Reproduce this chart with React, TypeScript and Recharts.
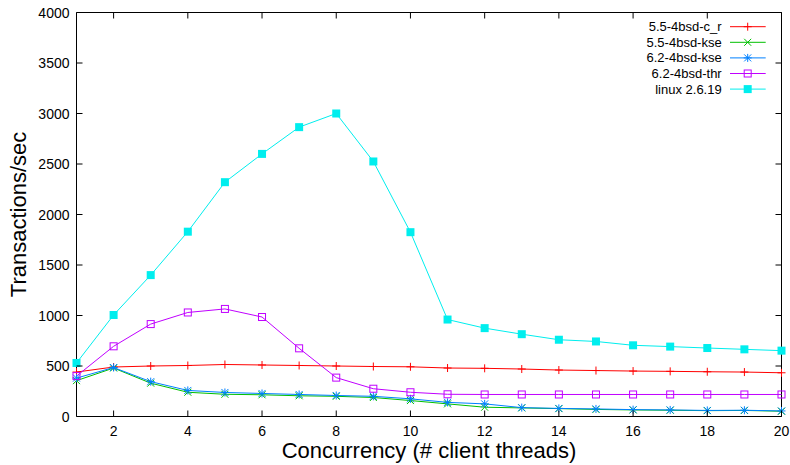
import { Legend, Line, LineChart, ReferenceArea, XAxis, YAxis } from "recharts";

const threads = [1, 2, 3, 4, 5, 6, 7, 8, 9, 10, 11, 12, 13, 14, 15, 16, 17, 18, 19, 20];
const bsd55cr = [440, 490, 500, 505, 515, 510, 505, 500, 495, 492, 480, 477, 470, 460, 455, 450, 447, 443, 440, 433];
const bsd55kse = [355, 480, 330, 240, 220, 215, 205, 200, 188, 158, 125, 92, 85, 78, 70, 65, 62, 58, 60, 52];
const bsd62kse = [380, 485, 345, 258, 238, 228, 218, 208, 200, 175, 140, 125, 88, 80, 75, 68, 65, 60, 62, 55];
const bsd62thr = [400, 695, 915, 1030, 1065, 985, 675, 385, 275, 240, 220, 218, 218, 218, 218, 218, 218, 218, 218, 218];
const linux2619 = [530, 1005, 1400, 1830, 2320, 2600, 2865, 3000, 2525, 1825, 960, 875, 815, 760, 743, 705, 692, 678, 665, 652];

const xTicks = [2, 4, 6, 8, 10, 12, 14, 16, 18, 20];
const yTicks = [0, 500, 1000, 1500, 2000, 2500, 3000, 3500, 4000];

const FONT = '"Liberation Sans", Arial, Helvetica, sans-serif';
const PLOT_W = 705;
const PLOT_H = 404;

const series = [
  { key: "cr", name: "5.5-4bsd-c_r", color: "#ff0000", kind: "plus" },
  { key: "kse55", name: "5.5-4bsd-kse", color: "#00c000", kind: "cross" },
  { key: "kse62", name: "6.2-4bsd-kse", color: "#0080ff", kind: "star" },
  { key: "thr", name: "6.2-4bsd-thr", color: "#c000ff", kind: "box" },
  { key: "linux", name: "linux 2.6.19", color: "#00eeee", kind: "boxf" },
];

const data = threads.map((t, i) => ({
  threads: t,
  cr: bsd55cr[i],
  kse55: bsd55kse[i],
  kse62: bsd62kse[i],
  thr: bsd62thr[i],
  linux: linux2619[i],
}));

function Marker({ kind, cx, cy, color }: { kind: string; cx: number; cy: number; color: string }) {
  const plus = `M${cx - 4},${cy}H${cx + 4}M${cx},${cy - 4}V${cy + 4}`;
  const cross = `M${cx - 3.5},${cy - 3.5}L${cx + 3.5},${cy + 3.5}M${cx - 3.5},${cy + 3.5}L${cx + 3.5},${cy - 3.5}`;
  if (kind === "plus") return <path d={plus} stroke={color} fill="none" />;
  if (kind === "cross") return <path d={cross} stroke={color} fill="none" />;
  if (kind === "star") return <path d={plus + cross} stroke={color} fill="none" />;
  if (kind === "box")
    return <rect x={cx - 3.5} y={cy - 3.5} width={7} height={7} stroke={color} fill="none" />;
  return <rect x={cx - 4} y={cy - 4} width={8} height={8} fill={color} />;
}

const XTick = (props: any) => {
  const { x, y, payload } = props;
  return (
    <g>
      <line x1={x} x2={x} y1={y} y2={y - 6} stroke="#000" />
      <line x1={x} x2={x} y1={y - PLOT_H} y2={y - PLOT_H + 6} stroke="#000" />
      <text x={x} y={y + 19} textAnchor="middle" fontSize={14} fontFamily={FONT} fill="#000">
        {payload.value}
      </text>
    </g>
  );
};

const YTick = (props: any) => {
  const { x, y, payload } = props;
  return (
    <g>
      <line x1={x} x2={x + 6} y1={y} y2={y} stroke="#000" />
      <line x1={x + PLOT_W} x2={x + PLOT_W - 6} y1={y} y2={y} stroke="#000" />
      <text x={x - 7} y={y + 5} textAnchor="end" fontSize={14} fontFamily={FONT} fill="#000">
        {payload.value}
      </text>
    </g>
  );
};

const YTitle = (props: any) => {
  const { x, y, height } = props.viewBox;
  const cx = x + 18;
  const cy = y + height / 2;
  return (
    <text
      x={cx}
      y={cy}
      transform={`rotate(-90 ${cx} ${cy})`}
      textAnchor="middle"
      dominantBaseline="central"
      fontSize={22}
      fontFamily={FONT}
      fill="#000"
    >
      Transactions/sec
    </text>
  );
};

const XTitle = (props: any) => {
  const { x, y, width } = props.viewBox;
  return (
    <text x={x + width / 2} y={y + 41} textAnchor="middle" fontSize={22} fontFamily={FONT} fill="#000">
      Concurrency (# client threads)
    </text>
  );
};

const KeyBox = () => (
  <svg width={180} height={95} style={{ display: "block" }}>
    {series.map((s, i) => {
      const cy = 16.7 + i * 15.6;
      return (
        <g key={s.key}>
          <text x={121.7} y={cy + 4.5} textAnchor="end" fontSize={13} fontFamily={FONT} fill="#000">
            {s.name}
          </text>
          <line x1={130} x2={165.7} y1={cy} y2={cy} stroke={s.color} />
          <Marker kind={s.kind} cx={147.7} cy={cy} color={s.color} />
        </g>
      );
    })}
  </svg>
);

export default function App() {
  return (
    <div style={{ position: "absolute", left: 0, top: 0, background: "#fff" }}>
      <LineChart width={790} height={465} data={data} margin={{ top: 12.5, right: 8.5, left: 0, bottom: 0 }}>
        <XAxis
          dataKey="threads"
          type="number"
          domain={[1, 20]}
          ticks={xTicks}
          height={48.5}
          axisLine={false}
          tickLine={false}
          tickSize={0}
          tickMargin={0}
          tick={<XTick />}
          interval={0}
          label={<XTitle />}
        />
        <YAxis
          type="number"
          domain={[0, 4000]}
          ticks={yTicks}
          width={76.5}
          axisLine={false}
          tickLine={false}
          tickSize={0}
          tickMargin={0}
          tick={<YTick />}
          interval={0}
          label={<YTitle />}
        />
        <ReferenceArea x1={1} x2={20} y1={0} y2={4000} fill="none" stroke="#000" strokeWidth={1} />
        {series.map((s) => (
          <Line
            key={s.key}
            type="linear"
            dataKey={s.key}
            name={s.name}
            stroke={s.color}
            strokeWidth={1}
            isAnimationActive={false}
            dot={(p: any) => (
              <Marker key={`${s.key}-${p.index}`} kind={s.kind} cx={p.cx} cy={p.cy} color={s.color} />
            )}
            activeDot={false}
          />
        ))}
        <Legend
          layout="vertical"
          align="center"
          verticalAlign="middle"
          content={() => <KeyBox />}
          wrapperStyle={{ left: 600, top: 10, width: 180, height: 95 }}
        />
      </LineChart>
    </div>
  );
}
